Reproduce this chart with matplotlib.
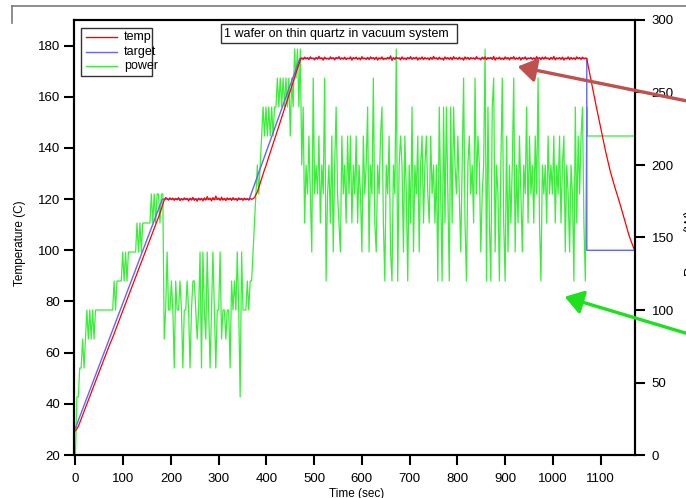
# %%
# Load imports
import numpy as np
import matplotlib.pyplot as plt
from matplotlib.lines import Line2D
from matplotlib.patches import Rectangle, FancyArrowPatch

plt.rcParams['font.family'] = ['Liberation Sans', 'DejaVu Sans']

# %%
# Logged data, one sample every 3 s (read off the original chart)
sample_dt = 3

# heater power (right axis), split by phase of the run
power_ramp1 = [0, 40, 40, 60, 60, 80, 60, 80, 100, 80,
               100, 80, 100, 80, 100, 100, 100, 100, 100, 100,
               100, 100, 100, 100, 100, 100, 100, 120, 100, 120,
               120, 120, 120, 140, 120, 140, 120, 140, 140, 140,
               140, 140, 140, 160, 140, 160, 140, 160, 160, 160,
               160, 160, 160, 180, 160, 180, 160, 180, 180, 160,
               180, 180]
power_hold1 = [80, 100, 140, 100, 100, 120, 100, 60, 120, 100,
               100, 120, 100, 60, 100, 100, 120, 100, 60, 100,
               120, 120, 100, 80, 100, 140, 60, 140, 100, 80,
               140, 100, 60, 100, 140, 100, 60, 100, 100, 140,
               80, 100, 100, 80, 100, 100, 60, 120, 100, 120,
               100, 140, 100, 40, 140, 100, 100, 100, 120, 100,
               120]
power_ramp2 = [120, 140, 160, 180, 200, 180, 200, 220, 240, 220,
               240, 220, 240, 220, 240, 220, 240, 240, 260, 240,
               260, 240, 260, 240, 260, 240, 260, 220, 260, 240,
               280, 260, 280, 240, 280]
power_hold2 = [200, 240, 160, 200, 180, 220, 180, 140, 260, 180,
               200, 180, 220, 160, 200, 180, 260, 120, 180, 200,
               160, 220, 140, 200, 240, 180, 160, 140, 220, 180,
               200, 160, 220, 180, 220, 160, 200, 180, 220, 160,
               200, 180, 140, 220, 180, 200, 240, 140, 200, 180,
               260, 160, 140, 200, 180, 220, 240, 160, 120, 200,
               180, 220, 140, 120, 200, 180, 280, 120, 200, 220,
               200, 140, 220, 180, 120, 200, 160, 240, 140, 200,
               180, 220, 140, 200, 220, 160, 200, 220, 180, 160,
               220, 180, 200, 160, 200, 120, 240, 180, 120, 240,
               160, 240, 180, 120, 240, 160, 240, 200, 180, 220,
               180, 140, 200, 260, 160, 120, 200, 220, 180, 200,
               160, 260, 180, 220, 200, 140, 180, 200, 280, 120,
               240, 160, 120, 240, 260, 140, 200, 180, 120, 200,
               260, 160, 120, 220, 140, 200, 160, 200, 260, 140,
               200, 160, 220, 180, 140, 200, 180, 240, 160, 220,
               180, 200, 160, 220, 180, 260, 160, 120, 200, 180,
               200, 160, 220, 180, 200, 180, 220, 160, 200, 180,
               220, 160, 200, 220, 140, 200, 180, 140, 200, 180,
               120, 240, 160, 220, 180, 220, 240, 160, 120, 240]
# after the hold the power sits at a fixed value
power_off_time = [1072, 1172]
power_off = [220, 220]

# wafer temperature (left axis), same phases
temp_ramp1 = [29.5, 30.2, 31.2, 32.6, 34.0, 35.5, 37.0, 38.4, 39.9, 41.4,
              42.8, 44.3, 45.8, 47.2, 48.7, 50.2, 51.6, 53.1, 54.6, 56.0,
              57.5, 58.9, 60.4, 61.9, 63.3, 64.6, 65.9, 67.4, 68.9, 70.4,
              71.9, 73.3, 74.8, 76.3, 77.7, 79.2, 80.7, 82.1, 83.6, 85.1,
              86.5, 88.0, 89.5, 90.9, 92.4, 93.9, 95.3, 96.8, 98.3, 99.7,
              101.2, 102.7, 104.1, 105.6, 107.1, 108.5, 110.0, 111.5, 112.9, 114.5,
              116.2, 118.0]
temp_hold1 = [119.6, 120.6, 120.2, 119.6, 120.5, 119.8, 120.4, 119.5, 120.3, 119.7,
              120.6, 119.4, 120.2, 119.6, 120.5, 119.8, 120.3, 119.3, 120.4, 119.6,
              120.7, 119.5, 120.2, 119.2, 120.4, 119.6, 120.3, 119.3, 120.5, 119.6,
              121.0, 119.8, 120.4, 119.3, 120.6, 119.7, 121.2, 119.9, 120.4, 119.5,
              120.8, 119.6, 120.3, 119.4, 120.5, 119.8, 120.4, 119.5, 120.6, 119.7,
              120.2, 119.4, 120.5, 119.8, 120.3, 119.5, 120.4, 119.7, 120.2, 119.6,
              120.3, 119.9, 120.2]
temp_ramp2 = [120.6, 121.8, 122.8, 124.5, 126.3, 128.0, 129.8, 131.5, 133.0, 134.8,
              136.5, 138.2, 140.0, 141.6, 143.4, 145.1, 146.8, 148.5, 150.2, 152.0,
              153.7, 155.4, 157.1, 158.8, 160.5, 162.3, 164.0, 165.8, 167.5, 169.3,
              171.0, 172.8, 174.3]
temp_hold2 = [175.2, 174.6, 175.5, 174.8, 175.3, 174.5, 175.6, 174.9, 175.1, 174.4,
              175.4, 174.7, 175.8, 174.9, 175.2, 174.3, 175.5, 174.8, 175.0, 174.6,
              175.6, 174.8, 175.3, 174.4, 175.4, 174.9, 175.7, 174.6, 175.2, 174.7,
              175.5, 174.5, 175.1, 174.8, 175.6, 174.3, 175.3, 174.9, 175.5, 174.6,
              175.2, 174.4, 175.7, 174.8, 175.1, 174.6, 175.4, 174.5, 175.6, 174.9,
              175.3, 174.6, 175.5, 174.3, 175.2, 174.8, 175.6, 174.5, 175.0, 174.7,
              175.4, 174.8, 176.0, 174.2, 175.3, 174.6, 175.5, 174.9, 175.2, 174.4,
              175.6, 174.7, 175.1, 174.5, 175.4, 174.8, 175.7, 174.6, 175.3, 174.9,
              175.5, 174.3, 175.2, 174.7, 175.6, 174.5, 175.3, 174.8, 175.1, 174.4,
              175.4, 174.6, 175.8, 174.9, 175.2, 174.5, 175.5, 174.7, 175.0, 174.3,
              175.6, 174.8, 175.3, 174.6, 175.4, 174.4, 175.7, 174.9, 175.2, 174.6,
              175.5, 174.7, 175.1, 174.3, 175.6, 174.8, 175.4, 174.5, 175.3, 174.9,
              175.2, 174.6, 175.7, 174.8, 175.0, 174.4, 175.5, 174.7, 175.6, 174.5,
              175.3, 174.9, 175.4, 174.6, 175.8, 174.3, 175.2, 174.8, 175.5, 174.6,
              175.1, 174.5, 175.6, 174.8, 175.3, 174.4, 175.4, 174.9, 175.7, 174.6,
              175.2, 174.7, 175.5, 174.3, 175.3, 174.8, 175.6, 174.5, 175.1, 174.9,
              175.4, 174.6, 175.2, 174.4, 175.7, 174.8, 175.3, 174.5, 175.5, 174.7,
              175.6, 174.9, 175.1, 174.5, 175.4, 174.7, 175.8, 174.4, 175.2, 174.8,
              175.3, 174.6, 175.5, 174.3, 175.1, 174.8, 175.6, 174.5, 175.4, 174.7,
              175.2, 174.5, 175.6, 174.9, 175.3, 174.6, 175.5, 174.8, 175.1, 175.0]
# cool-down after the setpoint drops
cool_time = [1074, 1081, 1090, 1100, 1110, 1120, 1130, 1140, 1150, 1160, 1170]
cool_temp = [172.0, 165.4, 157.0, 148.0, 139.0, 131.0, 124.5, 118.5, 112.0, 105.5, 100.5]

# setpoint profile
target_time = [0, 182, 364, 470, 1071, 1071, 1172]
target = [30.5, 120, 120, 175, 175, 100, 100]

# %%
# Assemble the series
power = power_ramp1 + power_hold1 + power_ramp2 + power_hold2
temp = temp_ramp1 + temp_hold1 + temp_ramp2 + temp_hold2
time_s = np.arange(len(power)) * sample_dt

power_t = np.concatenate([time_s, power_off_time])
power_v = np.concatenate([power, power_off])
temp_t = np.concatenate([time_s, cool_time])
temp_v = np.concatenate([temp, cool_temp])

# %%
W, H = 686, 498


def fx(px):
    return px / W


def fy(py):
    return 1 - py / H


fig = plt.figure(figsize=(W / 100, H / 100), dpi=100)
ax = fig.add_axes([fx(74), fy(455), fx(635) - fx(74), fy(20) - fy(455)])
ax2 = ax.twinx()

ax2.plot(power_t, power_v, color='#3aee3a', lw=0.9)
ax.plot(target_time, target, color='#6464ff', lw=1.0)
ax.plot(temp_t, temp_v, color='#ff0000', lw=0.9)

# temperature lines drawn over the power trace
ax.set_zorder(ax2.get_zorder() + 1)
ax.patch.set_visible(False)

ax.set_xlim(-3, 1172)
ax.set_ylim(20, 190)
ax2.set_ylim(0, 300)
ax.set_xticks(range(0, 1101, 100))
ax.set_yticks(range(20, 181, 20))
ax2.set_yticks(range(0, 301, 50))

for a in (ax, ax2):
    for s in a.spines.values():
        s.set_linewidth(1.5)
ax.tick_params(axis='both', direction='out', length=7, width=1.5, labelsize=9.5)
ax.tick_params(axis='y', pad=3)
ax.tick_params(axis='x', pad=6)
ax2.tick_params(axis='y', direction='out', length=7, width=1.5, labelsize=9.5, pad=5)

# axis titles (the page crop cuts the lower and right ones)
fig.text(fx(20), fy(243), 'Temperature (C)', rotation=90, ha='center', va='center', fontsize=8.5)
fig.text(fx(357), fy(494), 'Time (sec)', ha='center', va='center', fontsize=8.5)
fig.text(fx(683.5), fy(276), 'Power (W)', rotation=90, ha='left', va='bottom', fontsize=10)

# hand-made legend box
fig.add_artist(Rectangle((fx(81), fy(76)), fx(152) - fx(81), fy(28) - fy(76),
                         transform=fig.transFigure, facecolor='white',
                         edgecolor='#333333', lw=1.0, zorder=5))
for ly, col, lab in [(37, '#ff0000', 'temp'), (52, '#6464ff', 'target'), (66, '#3aee3a', 'power')]:
    fig.add_artist(Line2D([fx(86), fx(117)], [fy(ly), fy(ly)], color=col, lw=1.0,
                          transform=fig.transFigure, zorder=6))
    fig.text(fx(124), fy(ly), lab, ha='left', va='center', fontsize=9, zorder=6)

# note box
fig.add_artist(Rectangle((fx(221), fy(43)), fx(457) - fx(221), fy(24) - fy(43),
                         transform=fig.transFigure, facecolor='white',
                         edgecolor='#333333', lw=1.0, zorder=5))
fig.text(fx(224), fy(33.5), '1 wafer on thin quartz in vacuum system',
         ha='left', va='center', fontsize=9, zorder=6)

# arrows pointing at the temp and power traces
arrow_style = '-|>,head_length=0.55,head_width=0.36'
fig.add_artist(FancyArrowPatch((fx(692), fy(102)), (fx(515), fy(66)), transform=fig.transFigure,
                               arrowstyle=arrow_style, mutation_scale=20,
                               color='#c0504d', lw=2.4, zorder=7))
fig.add_artist(FancyArrowPatch((fx(692), fy(335)), (fx(562), fy(296)), transform=fig.transFigure,
                               arrowstyle=arrow_style, mutation_scale=20,
                               color='#1ee01e', lw=2.4, zorder=7))

# outer frame edge of the original page
fig.add_artist(Line2D([fx(12), 1], [fy(6), fy(6)], color='#7a7a7a', lw=1.2, transform=fig.transFigure))
fig.add_artist(Line2D([fx(12), fx(12)], [fy(6), fy(23)], color='#7a7a7a', lw=1.2, transform=fig.transFigure))

fig.savefig('out.png', dpi=100)
